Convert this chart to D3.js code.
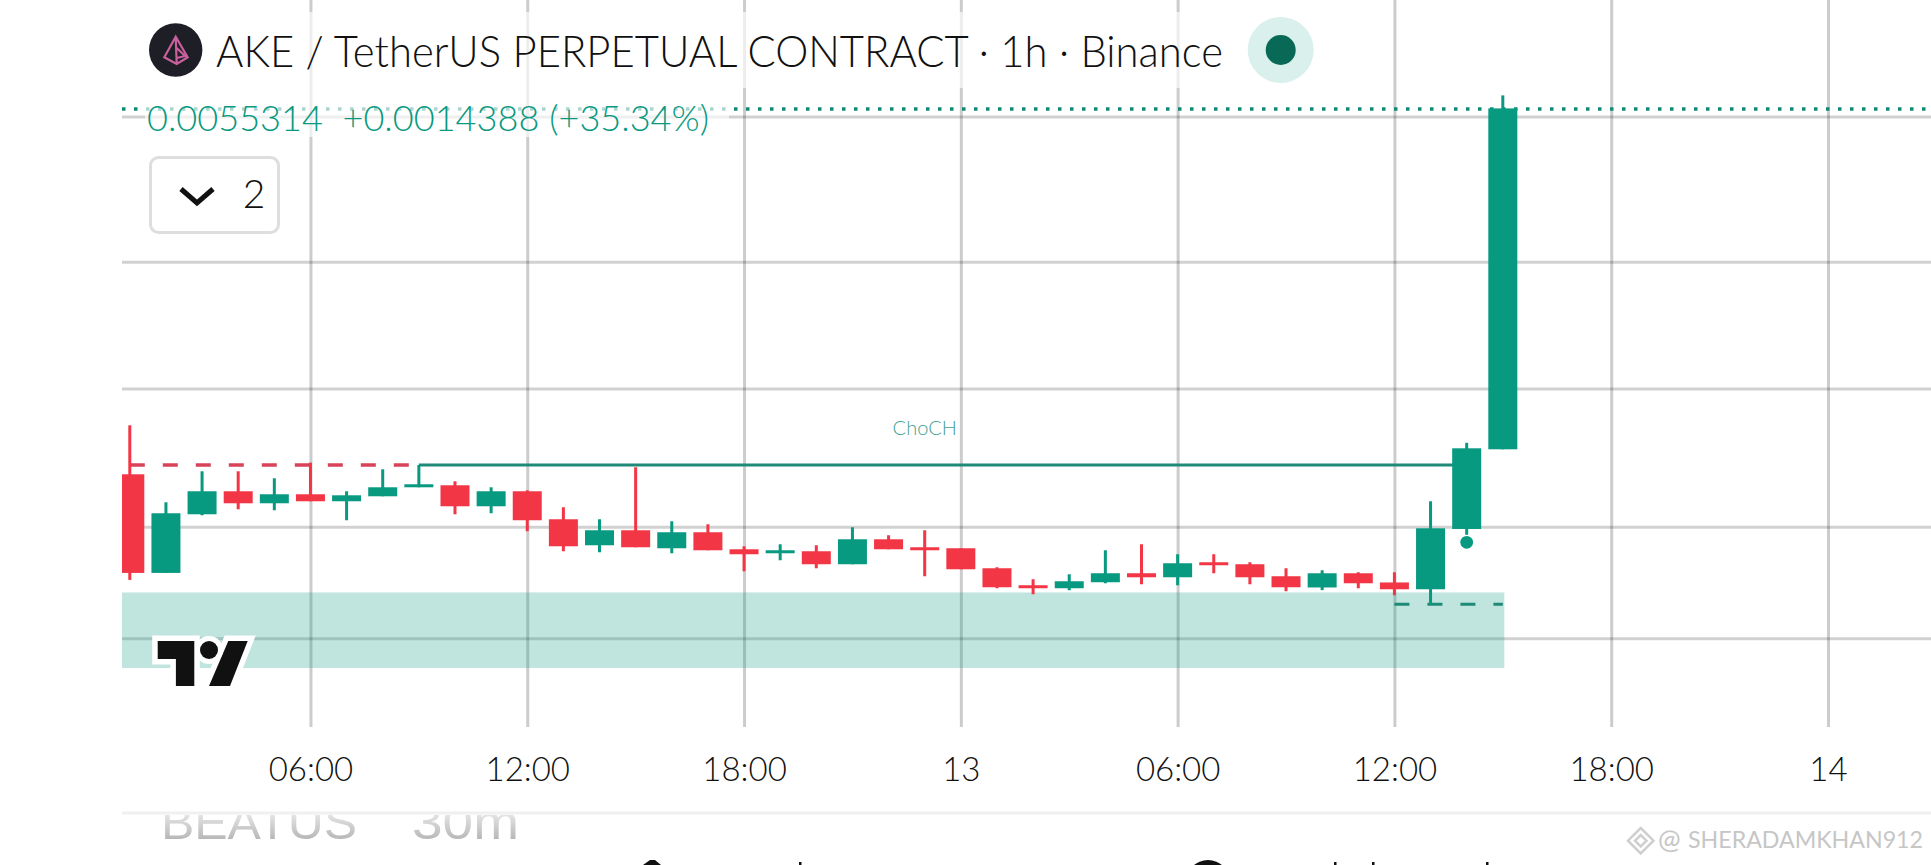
<!DOCTYPE html>
<html>
<head>
<meta charset="utf-8">
<title>AKE / TetherUS</title>
<script src="https://cdn.jsdelivr.net/npm/d3@7"></script>
<style>
  html, body { margin: 0; padding: 0; background: #fff; overflow: hidden; }
  svg { display: block; }
  text { font-family: Lato, "Open Sans", sans-serif; font-weight: 300; }
  .domain { display: none; }
</style>
</head>
<body>
<svg id="canvas" width="1931" height="865"></svg>
<script>
/* hourly candles, first one opens at 01:00 on the 12th */
const opens = [
  0.0039826, 0.0035651, 0.0038133, 0.0039107, 0.0038599, 0.0038980, 0.0038684, 0.0038895,
  0.0039276, 0.0039361, 0.0038472, 0.0039107, 0.0037922, 0.0036822, 0.0037456, 0.0036695,
  0.0037372, 0.0036652, 0.0036483, 0.0036568, 0.0036018, 0.0037075, 0.0036737, 0.0036695,
  0.0035848, 0.0035129, 0.0035002, 0.0035256, 0.0035637, 0.0035467, 0.0036102, 0.0036018,
  0.0035510, 0.0035035, 0.0035636, 0.0035247, 0.0034959, 0.0037511, 0.0040884
];
const highs = [
  0.0041900, 0.0038641, 0.0039953, 0.0039953, 0.0039657, 0.0040320, 0.0039107, 0.0040038,
  0.0040221, 0.0039530, 0.0039276, 0.0039149, 0.0038430, 0.0037922, 0.0040122, 0.0037837,
  0.0037710, 0.0036779, 0.0036864, 0.0036822, 0.0037583, 0.0037245, 0.0037456, 0.0036695,
  0.0035891, 0.0035383, 0.0035594, 0.0036610, 0.0036864, 0.0036441, 0.0036441, 0.0036102,
  0.0035848, 0.0035763, 0.0035678, 0.0035678, 0.0038683, 0.0041159, 0.0055864
];
const lows = [
  0.0035355, 0.0035651, 0.0038091, 0.0038345, 0.0038303, 0.0038684, 0.0037880, 0.0038895,
  0.0039276, 0.0038133, 0.0038176, 0.0037414, 0.0036568, 0.0036525, 0.0036737, 0.0036483,
  0.0036610, 0.0035721, 0.0036187, 0.0035848, 0.0036018, 0.0036652, 0.0035510, 0.0035806,
  0.0035002, 0.0034748, 0.0034917, 0.0035213, 0.0035171, 0.0035129, 0.0035637, 0.0035171,
  0.0034875, 0.0034921, 0.0035001, 0.0034705, 0.0034324, 0.0037265, 0.0040884
];
const closes = [
  0.0035651, 0.0038176, 0.0039107, 0.0038599, 0.0038980, 0.0038684, 0.0038937, 0.0039276,
  0.0039403, 0.0038472, 0.0039107, 0.0037880, 0.0036779, 0.0037456, 0.0036737, 0.0037372,
  0.0036610, 0.0036441, 0.0036610, 0.0036018, 0.0037075, 0.0036652, 0.0036610, 0.0035806,
  0.0035044, 0.0035002, 0.0035298, 0.0035637, 0.0035467, 0.0036060, 0.0035975, 0.0035467,
  0.0035044, 0.0035636, 0.0035213, 0.0034959, 0.0037540, 0.0040926, 0.0055314
];

/* horizontal grid levels */
const priceLevels = [0.0054975, 0.0048818, 0.0043456, 0.0037608, 0.0032881];

/* annotations */
const lastPrice = 0.0055314;
const prevClose = 0.0040926;
const structureLevel = 0.0040219;   // red dashes, then the ChoCH line
const sweepLevel = 0.0034324;       // green dashes under the 13:00 candle
const zoneTop = 0.0034824;
const zoneBottom = 0.0031624;
const chochFrom = 8;   // candle indexes
const chochTo = 37;
const chochLabelAt = 22;
const sweepFrom = 35;
const sweepTo = 38;
const zoneTo = 38;
const markerIndex = 37;
const markerPrice = 0.0036948;

const titleText = 'AKE / TetherUS PERPETUAL CONTRACT · 1h · Binance';
const legendText = '0.0055314  +0.0014388 (+35.34%)';
const nextLabels = ['BEATUS', '30m'];

const UP = '#089981';
const DOWN = '#f23645';

const WIDTH = 1931;
const HEIGHT = 865;
const PLOT_LEFT = 122;
const GRID_BOTTOM = 727;

let svg = d3.select('#canvas');

/* --- scales --- */
const firstCandle = Date.UTC(2024, 0, 12, 1);
const times = d3.utcHour.range(new Date(firstCandle), new Date(firstCandle + opens.length * 36e5));
const tickTimes = d3.utcHour.range(new Date(Date.UTC(2024, 0, 12, 6)), new Date(Date.UTC(2024, 0, 14, 1)), 6);

const x = d3.scaleUtc()
  .domain([times[0], tickTimes[tickTimes.length - 1]])
  .range([129.8, 1828]);
const y = d3.scaleLinear()
  .domain([lastPrice, prevClose])
  .range([108.4, 448.3]);

const candleWidth = 29;
const tickFormat = d => d.getUTCHours() === 0 ? d3.utcFormat('%-d')(d) : d3.utcFormat('%H:%M')(d);

/* --- grid, through the axes --- */
let xAxis = d3.axisBottom(x)
  .tickValues(tickTimes)
  .tickFormat(tickFormat)
  .tickSizeInner(GRID_BOTTOM)
  .tickSizeOuter(0)
  .tickPadding(31);
let gx = svg.append('g').attr('id', 'bottom-axis').call(xAxis);
gx.selectAll('line').attr('stroke', '#000').attr('stroke-opacity', 0.2).attr('stroke-width', 3);
gx.selectAll('text')
  .attr('fill', '#111')
  .style('font-size', '33px');

let yAxis = d3.axisRight(y)
  .tickValues(priceLevels)
  .tickFormat('')
  .tickSizeInner(WIDTH - PLOT_LEFT)
  .tickSizeOuter(0);
let gy = svg.append('g').attr('id', 'right-axis')
  .attr('transform', 'translate(' + PLOT_LEFT + ',0)')
  .call(yAxis);
gy.selectAll('line').attr('stroke', '#000').attr('stroke-opacity', 0.18).attr('stroke-width', 3);

/* --- plot area --- */
svg.append('clipPath').attr('id', 'plot-clip').append('rect')
  .attr('x', PLOT_LEFT).attr('y', 0)
  .attr('width', WIDTH - PLOT_LEFT).attr('height', GRID_BOTTOM);
let plot = svg.append('g').attr('clip-path', 'url(#plot-clip)');

/* demand zone */
plot.append('rect')
  .attr('x', PLOT_LEFT)
  .attr('y', y(zoneTop))
  .attr('width', x(times[zoneTo]) + 1.5 - PLOT_LEFT)
  .attr('height', y(zoneBottom) - y(zoneTop))
  .attr('fill', UP)
  .attr('fill-opacity', 0.26);

/* last price dotted line */
plot.append('line')
  .attr('x1', PLOT_LEFT).attr('x2', WIDTH)
  .attr('y1', y(lastPrice) + 0.6).attr('y2', y(lastPrice) + 0.6)
  .attr('stroke', '#0e8a76')
  .attr('stroke-width', 3.5)
  .attr('stroke-dasharray', '3.5 8.5');

/* structure lines */
plot.append('line')
  .attr('x1', x(times[0])).attr('x2', x(times[chochFrom]))
  .attr('y1', y(structureLevel)).attr('y2', y(structureLevel))
  .attr('stroke', '#d8435a')
  .attr('stroke-width', 3.5)
  .attr('stroke-dasharray', '15 18');
plot.append('line')
  .attr('x1', x(times[chochFrom])).attr('x2', x(times[chochTo]))
  .attr('y1', y(structureLevel)).attr('y2', y(structureLevel))
  .attr('stroke', '#1f8a78')
  .attr('stroke-width', 3);
plot.append('line')
  .attr('x1', x(times[sweepFrom])).attr('x2', x(times[sweepTo]))
  .attr('y1', y(sweepLevel)).attr('y2', y(sweepLevel))
  .attr('stroke', '#1f8a78')
  .attr('stroke-width', 3)
  .attr('stroke-dasharray', '15 18');

/* candles */
let candles = plot.selectAll('g.candle')
  .data(times)
  .enter().append('g')
  .attr('class', 'candle')
  .attr('fill', (d, i) => closes[i] >= opens[i] ? UP : DOWN);
candles.append('rect')
  .attr('x', d => x(d) - 1.5)
  .attr('width', 3)
  .attr('y', (d, i) => y(highs[i]))
  .attr('height', (d, i) => y(lows[i]) - y(highs[i]));
candles.append('rect')
  .attr('x', d => x(d) - candleWidth / 2)
  .attr('width', candleWidth)
  .attr('y', (d, i) => y(Math.max(opens[i], closes[i])))
  .attr('height', (d, i) => Math.abs(y(opens[i]) - y(closes[i])));

/* round marker below the 14:00 candle */
plot.append('circle')
  .attr('cx', x(times[markerIndex]))
  .attr('cy', y(markerPrice))
  .attr('r', 6.4)
  .attr('fill', UP);

plot.append('text')
  .attr('x', x(times[chochLabelAt]))
  .attr('y', 435)
  .attr('text-anchor', 'middle')
  .attr('fill', '#3f9f90')
  .style('font-size', '20px')
  .text('ChoCH');

/* --- legend --- */
svg.append('rect').attr('x', 145).attr('y', 12).attr('width', 1175).attr('height', 76)
  .attr('fill', '#fff').attr('fill-opacity', 0.65);
svg.append('rect').attr('x', 145).attr('y', 88).attr('width', 584).attr('height', 49)
  .attr('fill', '#fff').attr('fill-opacity', 0.65);

svg.append('circle').attr('cx', 175.7).attr('cy', 50).attr('r', 26.7).attr('fill', '#1e1f26');
svg.append('path')
  .attr('d', 'M175.7 36.7L164.3 57.3L176.7 64L187.7 57.3ZM175.7 36.7L176.7 64M176.7 48L185 56L177 58')
  .attr('fill', 'none')
  .attr('stroke', '#c9609e')
  .attr('stroke-width', 2.2);

svg.append('text')
  .attr('x', 216).attr('y', 67)
  .attr('fill', '#111')
  .attr('textLength', 1007)
  .attr('lengthAdjust', 'spacingAndGlyphs')
  .style('font-size', '44px')
  .text(titleText);

svg.append('circle').attr('cx', 1280.7).attr('cy', 50).attr('r', 33).attr('fill', '#d9f0ec');
svg.append('circle').attr('cx', 1280.7).attr('cy', 50).attr('r', 15).attr('fill', '#076956');

svg.append('text')
  .attr('x', 147).attr('y', 131)
  .attr('fill', UP)
  .attr('textLength', 562)
  .attr('lengthAdjust', 'spacingAndGlyphs')
  .attr('xml:space', 'preserve')
  .style('white-space', 'pre')
  .style('font-size', '36px')
  .text(legendText);

svg.append('rect')
  .attr('x', 150.5).attr('y', 157.5).attr('width', 128).attr('height', 75).attr('rx', 8)
  .attr('fill', '#fff')
  .attr('stroke', '#dedede')
  .attr('stroke-width', 3);
svg.append('path')
  .attr('d', 'M181 189L197 203L213 189')
  .attr('fill', 'none')
  .attr('stroke', '#111')
  .attr('stroke-width', 5);
svg.append('text')
  .attr('x', 254).attr('y', 208)
  .attr('text-anchor', 'middle')
  .attr('fill', '#111')
  .style('font-size', '39px')
  .text('2');

/* TradingView mark */
let tv = svg.append('g').attr('id', 'tv-logo');
tv.append('path')
  .attr('d', 'M157.7 641H194.3V686H175.9V659H157.7ZM247.7 641L230 686H209L228.3 641Z')
  .attr('fill', '#111')
  .attr('stroke', '#fff')
  .attr('stroke-width', 11)
  .attr('paint-order', 'stroke');
tv.append('circle').attr('cx', 209).attr('cy', 650).attr('r', 14).attr('fill', '#fff');
tv.append('circle').attr('cx', 209).attr('cy', 650).attr('r', 9).attr('fill', '#111');

/* --- below the chart --- */
svg.append('rect').attr('x', PLOT_LEFT).attr('y', 811.5).attr('width', WIDTH - PLOT_LEFT).attr('height', 3)
  .attr('fill', '#f0f0f0');

let grad = svg.append('linearGradient').attr('id', 'fade')
  .attr('x1', 0).attr('x2', 0).attr('y1', 0).attr('y2', 1);
grad.append('stop').attr('offset', '0.2').attr('stop-color', '#f2f2f2');
grad.append('stop').attr('offset', '0.85').attr('stop-color', '#b4b4b4');

svg.append('clipPath').attr('id', 'next-clip').append('rect')
  .attr('x', 0).attr('y', 815).attr('width', WIDTH).attr('height', 50);
let next = svg.append('g').attr('clip-path', 'url(#next-clip)');
next.selectAll('text')
  .data(nextLabels)
  .enter().append('text')
  .attr('x', (d, i) => [161, 412][i])
  .attr('y', 839)
  .attr('fill', 'url(#fade)')
  .attr('textLength', (d, i) => [196, 107][i])
  .attr('lengthAdjust', 'spacingAndGlyphs')
  .style('font-family', '"Liberation Sans", sans-serif')
  .style('font-weight', 400)
  .style('font-size', '48px')
  .text(d => d);

/* watermark */
let mark = svg.append('g').attr('fill', 'none').attr('stroke', '#cfcfcf').attr('stroke-width', 2.5);
mark.append('path').attr('d', 'M1640.7 828L1653.5 840.7L1640.7 853.5L1628 840.7Z');
mark.append('path').attr('d', 'M1640.7 835L1646.5 840.7L1640.7 846.5L1635 840.7Z');
svg.append('text')
  .attr('x', 1658).attr('y', 849)
  .attr('fill', '#c6c6c6')
  .style('font-size', '27px')
  .style('font-weight', 400)
  .text('@');
svg.append('text')
  .attr('x', 1688).attr('y', 848.3)
  .attr('fill', '#c6c6c6')
  .attr('textLength', 235)
  .attr('lengthAdjust', 'spacingAndGlyphs')
  .style('font-size', '23px')
  .style('font-weight', 400)
  .text('SHERADAMKHAN912');

/* tops of the icons cut off by the bottom edge */
svg.append('path').attr('d', 'M643 865L650 860H655L661 865Z').attr('fill', '#111');
svg.append('circle').attr('cx', 1208).attr('cy', 882).attr('r', 22).attr('fill', '#111');
[799, 1334, 1372, 1486].forEach(tx => {
  svg.append('rect').attr('x', tx).attr('y', 862).attr('width', 2.5).attr('height', 3).attr('fill', '#111');
});
</script>
</body>
</html>
